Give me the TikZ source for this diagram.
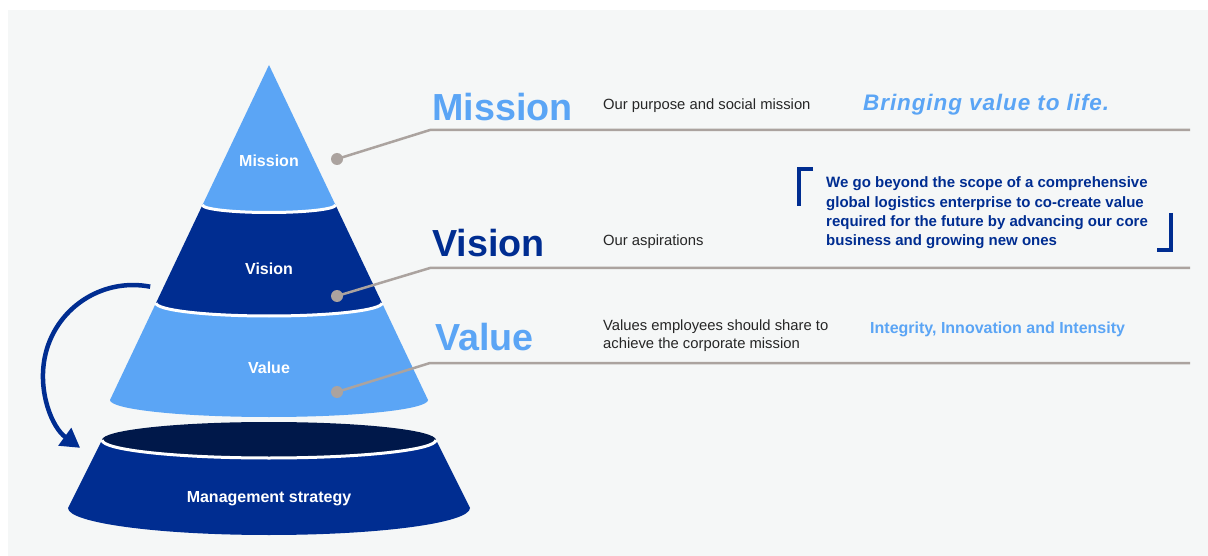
\documentclass[tikz,border=0pt]{standalone}
\usepackage{fontspec}
\setmainfont{Liberation Sans}
\usetikzlibrary{arrows.meta, positioning}
\definecolor{skyblue}{HTML}{5BA5F5}
\definecolor{navy}{HTML}{002D91}
\definecolor{deepnavy}{HTML}{00184A}
\definecolor{leadgray}{HTML}{ABA39F}
\definecolor{bggray}{HTML}{F5F7F7}
\definecolor{bodytext}{HTML}{262626}
\tikzset{
  seam/.style={white, line width=3pt},
  leader/.style={leadgray, line width=2.5pt},
  dot/.style={circle, fill=leadgray, minimum size=12pt, inner sep=0pt},
  title/.style={anchor=base west, inner sep=0pt, font=\fontsize{37.7}{40}\selectfont\bfseries},
  desc/.style={anchor=base west, inner sep=0pt, text=bodytext, align=left, font=\fontsize{14.8}{18}\selectfont},
  tierlabel/.style={anchor=base, inner sep=0pt, text=white, font=\fontsize{16}{19}\selectfont\bfseries},
  bracket/.style={navy, line width=4pt, line join=miter}
}

\begin{document}
\begin{tikzpicture}[
    x=1pt, y=1pt,
    cyclearrow/.style={navy, line width=4.5pt, -{Triangle[length=19pt, width=21pt]}},
]

% canvas
\useasboundingbox (0,0) rectangle (1208,-556);
\fill[white] (0,0) rectangle (1208,-556);
\fill[bggray] (8,-10) rectangle (1208,-556);

% pyramid bands
\fill[skyblue] (269,-65) -- (335.5,-205) arc[start angle=0, end angle=-180, x radius=66.5, y radius=7.5] -- cycle;
\fill[navy] (202.5,-205) arc[start angle=180, end angle=360, x radius=66.5, y radius=7.5]
  -- (382,-303) arc[start angle=0, end angle=-180, x radius=113, y radius=13] -- cycle;
\fill[skyblue] (156,-303) arc[start angle=180, end angle=360, x radius=113, y radius=13]
  -- (428,-400) arc[start angle=0, end angle=-180, x radius=159, y radius=17] -- cycle;
\draw[seam] (202.5,-205) arc[start angle=180, end angle=360, x radius=66.5, y radius=7.5];
\draw[seam] (156,-303) arc[start angle=180, end angle=360, x radius=113, y radius=13];

% base
\fill[deepnavy] (269,-440) ellipse[x radius=167, y radius=18];
\fill[navy] (102,-440) arc[start angle=180, end angle=360, x radius=167, y radius=18]
  -- (470,-508) arc[start angle=0, end angle=-180, x radius=201, y radius=27] -- cycle;
\draw[seam] (102,-440) arc[start angle=180, end angle=360, x radius=167, y radius=18];

% tier labels
\node[tierlabel] (tmission) at (269,-167) {Mission};
\node[tierlabel] (tvision) at (269,-275) {Vision};
\node[tierlabel] (tvalue) at (269,-373) {Value};
\node[tierlabel] (tstrategy) at (269,-502) {Management strategy};

% loop arrow
\coordinate (loopstart) at (150.2,-286.7);
\draw[cyclearrow] (loopstart) arc[start angle=79, end angle=234, radius=90];

% leaders
\coordinate (mknee) at (430,-130);
\coordinate (mend) at (1190,-130);
\coordinate (vknee) at (430,-268);
\coordinate (vend) at (1190,-268);
\coordinate (wknee) at (430,-363);
\coordinate (wend) at (1190,-363);
\node[dot] (mdot) at (337,-159) {};
\node[dot] (vdot) at (337,-296) {};
\node[dot] (wdot) at (337,-392) {};
\draw[leader] (mdot.center) -- (mknee) -- (mend);
\draw[leader] (vdot.center) -- (vknee) -- (vend);
\draw[leader] (wdot.center) -- (wknee) -- (wend);

% titles
\node[title, text=skyblue] (hmission) at (432,-121) {Mission};
\node[title, text=navy] (hvision) at (432,-257) {Vision};
\node[title, text=skyblue] (hvalue) at (435,-350) {Value};

% descriptions
\node[desc] (dmission) at (603,-110) {Our purpose and social mission};
\node[desc] (dvision) at (603,-246) {Our aspirations};
\node[desc] (dvalue) at (603,-348) {Values employees should share to\\achieve the corporate mission};

% statements
\node[anchor=base west, inner sep=0pt, text=skyblue,
  font=\fontsize{22.5}{26}\selectfont\bfseries\itshape\addfontfeatures{LetterSpace=4}] (smission) at (863,-111) {Bringing value to life.};
\node[anchor=base west, inner sep=0pt, text=navy, align=left,
  font=\fontsize{15}{19.4}\selectfont\bfseries] (svision) at (826,-246)
  {We go beyond the scope of a comprehensive\\global logistics enterprise to co-create value\\required for the future by advancing our core\\business and growing new ones};
\node[anchor=base west, inner sep=0pt, text=skyblue,
  font=\fontsize{16}{19}\selectfont\bfseries] (svalue) at (870,-333) {Integrity, Innovation and Intensity};

% brackets
\draw[bracket] (813,-169) -- (799,-169) -- (799,-206);
\draw[bracket] (1171,-213) -- (1171,-250.5) -- (1157,-250.5);

\end{tikzpicture}
\end{document}
